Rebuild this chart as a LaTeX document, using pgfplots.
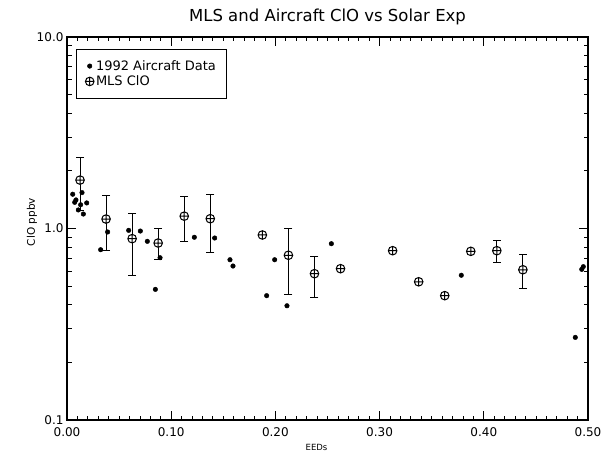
\documentclass[border=0pt]{standalone}
\usepackage{fontspec}
\setmainfont{DejaVu Sans}
\usepackage{pgfplots}
\pgfplotsset{compat=1.18}

\pgfplotsset{
  ebar/.style={black, line width=0.9pt, mark=-, mark size=4pt, mark options={solid}, forget plot},
}

\begin{document}
\begin{tikzpicture}[x=1pt,y=1pt]
\begin{axis}[
  at={(0,0)}, anchor=south west,
  scale only axis, width=521pt, height=383pt,
  ymode=log,
  xmin=0, xmax=0.5, ymin=0.1, ymax=10,
  xtick={0,0.1,0.2,0.3,0.4,0.5},
  xticklabels={0.00,0.10,0.20,0.30,0.40,0.50},
  minor x tick num=9,
  ytick={0.1,1,10},
  yticklabels={0.1,1.0,10.0},
  /pgf/number format/assume math mode=true,
  tick align=inside,
  major tick length=9pt, minor tick length=4.5pt,
  axis line style={line width=1.3pt},
  tick style={line width=0.8pt, black},
  ticklabel style={font=\fontsize{12}{14}\selectfont},
  xticklabel style={yshift=-4pt},
  title={MLS and Aircraft ClO vs Solar Exp},
  title style={font=\fontsize{16.5}{19}\selectfont, at={(axis description cs:0.5,1)}, anchor=base, yshift=9pt},
  xlabel={EEDs},
  xlabel style={font=\fontsize{8.5}{10}\selectfont, at={(axis description cs:0.479,-0.0705)}, anchor=center},
  ylabel={ClO ppbv},
  ylabel style={font=\fontsize{10.5}{12}\selectfont, at={(axis description cs:-0.067,0.517)}, anchor=center},
  legend style={at={(axis description cs:0.0173,0.9687)}, anchor=north west,
    font=\fontsize{13}{15.5}\selectfont, draw=black, line width=0.8pt,
    inner xsep=9pt, inner ysep=9pt},
  legend cell align=left,
]
% error bars of the MLS points
\addplot[ebar] coordinates {(0.0125,1.24) (0.0125,2.34)};
\addplot[ebar] coordinates {(0.0375,0.766) (0.0375,1.48)};
\addplot[ebar] coordinates {(0.0625,0.572) (0.0625,1.20)};
\addplot[ebar] coordinates {(0.0875,0.69) (0.0875,1.00)};
\addplot[ebar] coordinates {(0.1125,0.853) (0.1125,1.47)};
\addplot[ebar] coordinates {(0.1375,0.748) (0.1375,1.50)};
\addplot[ebar] coordinates {(0.2125,0.453) (0.2125,1.00)};
\addplot[ebar] coordinates {(0.2375,0.439) (0.2375,0.718)};
\addplot[ebar] coordinates {(0.4125,0.668) (0.4125,0.868)};
\addplot[ebar] coordinates {(0.4375,0.487) (0.4375,0.733)};

% 1992 aircraft data
\addplot[only marks, mark=*, mark size=2.3pt, black, line width=0.4pt] coordinates {
  (0.0055,1.51) (0.0144,1.54) (0.0086,1.41) (0.0074,1.37)
  (0.0131,1.33) (0.0189,1.36) (0.0109,1.25) (0.0157,1.19)
  (0.0323,0.775) (0.0390,0.959) (0.0592,0.978) (0.0704,0.970)
  (0.0771,0.857) (0.0848,0.481) (0.0893,0.704) (0.1222,0.900)
  (0.1417,0.892) (0.1564,0.687) (0.1593,0.637) (0.1993,0.687)
  (0.1916,0.446) (0.2111,0.395) (0.2537,0.833) (0.3784,0.570)
  (0.4878,0.270) (0.4940,0.612) (0.4955,0.632)
};

% MLS ClO
\addplot[only marks, mark=oplus*, mark size=4.3pt, black, fill=white, line width=1pt] coordinates {
  (0.0125,1.79) (0.0375,1.12) (0.0625,0.885) (0.0875,0.840)
  (0.1125,1.16) (0.1375,1.125) (0.1875,0.925) (0.2125,0.725)
  (0.2375,0.581) (0.2625,0.617) (0.3125,0.766) (0.3375,0.527)
  (0.3625,0.446) (0.3875,0.760) (0.4125,0.766) (0.4375,0.609)
};
\legend{1992 Aircraft Data, MLS ClO}
\end{axis}
\pgfresetboundingbox
\path[use as bounding box] (-67,-33) rectangle (534,420);
\end{tikzpicture}
\end{document}
